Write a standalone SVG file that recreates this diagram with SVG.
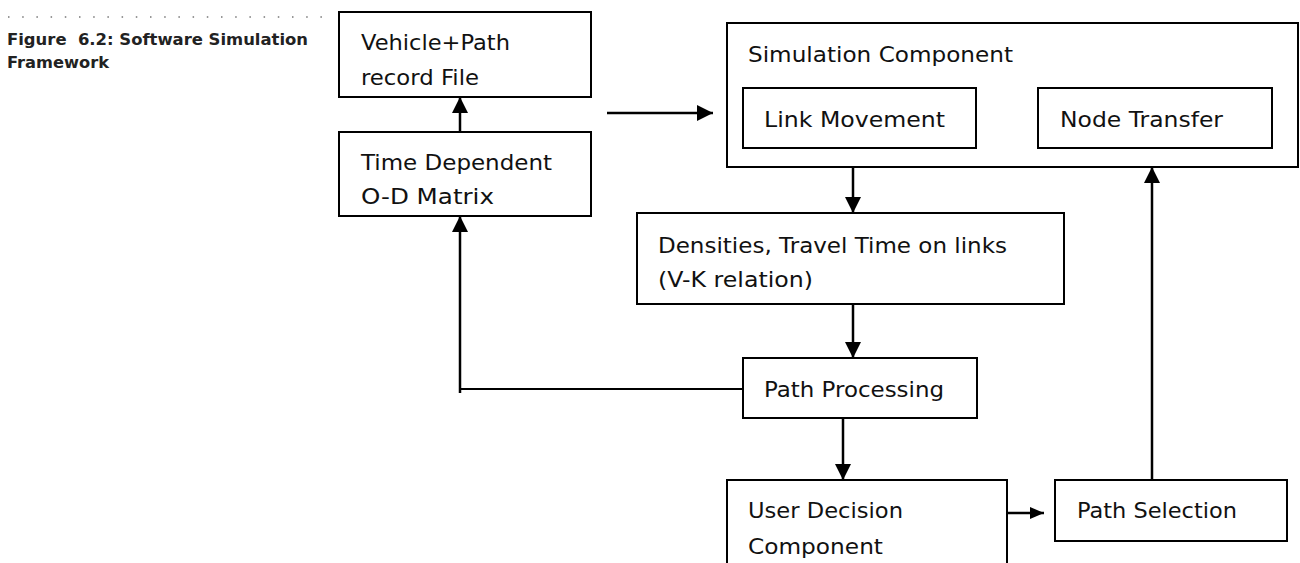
<svg xmlns="http://www.w3.org/2000/svg" width="1300" height="563" viewBox="0 0 1300 563">
<style>
.box{fill:#fff;stroke:#000;stroke-width:2}
.t{font-family:"DejaVu Sans","Liberation Sans",sans-serif;font-size:22px;fill:#111}
.cap{font-family:"DejaVu Sans","Liberation Sans",sans-serif;font-size:16px;font-weight:bold;fill:#222}
.ln{fill:none;stroke:#000;stroke-width:2.5}
.thin{fill:none;stroke:#000;stroke-width:2}
</style>
<defs>
<marker id="ah" markerUnits="userSpaceOnUse" markerWidth="16" markerHeight="16" refX="16" refY="8" orient="auto"><path d="M0,0 L16,8 L0,16 z" fill="#000"/></marker>
<marker id="ahs" markerUnits="userSpaceOnUse" markerWidth="14" markerHeight="12" refX="14" refY="6" orient="auto"><path d="M0,0 L14,6 L0,12 z" fill="#000"/></marker>
</defs>
<rect width="1300" height="563" fill="#fff"/>
<g id="caption">
<line x1="8" y1="17" x2="334" y2="17" stroke="#777" stroke-width="1.5" stroke-dasharray="1.5 12.7"/>
<text class="cap" x="7" y="45" textLength="301" lengthAdjust="spacingAndGlyphs" xml:space="preserve">Figure  6.2: Software Simulation</text>
<text class="cap" x="7" y="68" textLength="102" lengthAdjust="spacingAndGlyphs">Framework</text>
</g>
<g id="connectors">
<line class="ln" x1="460" y1="132" x2="460" y2="97" marker-end="url(#ah)"/>
<line class="ln" x1="607" y1="113" x2="713" y2="113" marker-end="url(#ah)"/>
<line class="ln" x1="853" y1="167" x2="853" y2="213" marker-end="url(#ah)"/>
<line class="ln" x1="853" y1="304" x2="853" y2="358" marker-end="url(#ah)"/>
<path class="thin" d="M743,389 H460"/>
<line class="ln" x1="460" y1="393" x2="460" y2="216" marker-end="url(#ah)"/>
<line class="ln" x1="843" y1="418" x2="843" y2="480" marker-end="url(#ah)"/>
<line class="ln" x1="1007" y1="513" x2="1044" y2="513" marker-end="url(#ahs)"/>
<line class="ln" x1="1152" y1="480" x2="1152" y2="167" marker-end="url(#ah)"/>
</g>
<g id="vehicle">
<rect class="box" x="339" y="12" width="252" height="85"/>
<text class="t" x="361" y="50" textLength="149" lengthAdjust="spacingAndGlyphs">Vehicle+Path</text>
<text class="t" x="361" y="85" textLength="118" lengthAdjust="spacingAndGlyphs">record File</text>
</g>
<g id="timedep">
<rect class="box" x="339" y="132" width="252" height="84"/>
<text class="t" x="361" y="170" textLength="191" lengthAdjust="spacingAndGlyphs">Time Dependent</text>
<text class="t" x="361" y="204" textLength="133" lengthAdjust="spacingAndGlyphs">O-D Matrix</text>
</g>
<g id="simulation">
<rect class="box" x="727" y="23" width="571" height="144"/>
<text class="t" x="748" y="62" textLength="265" lengthAdjust="spacingAndGlyphs">Simulation Component</text>
</g>
<g id="link">
<rect class="box" x="743" y="88" width="233" height="60"/>
<text class="t" x="764" y="127" textLength="181" lengthAdjust="spacingAndGlyphs">Link Movement</text>
</g>
<g id="nodetransfer">
<rect class="box" x="1038" y="88" width="234" height="60"/>
<text class="t" x="1060" y="127" textLength="163" lengthAdjust="spacingAndGlyphs">Node Transfer</text>
</g>
<g id="densities">
<rect class="box" x="637" y="213" width="427" height="91"/>
<text class="t" x="658" y="253" textLength="349" lengthAdjust="spacingAndGlyphs">Densities, Travel Time on links</text>
<text class="t" x="658" y="287" textLength="155" lengthAdjust="spacingAndGlyphs">(V-K relation)</text>
</g>
<g id="pathprocessing">
<rect class="box" x="743" y="358" width="234" height="60"/>
<text class="t" x="764" y="397" textLength="180" lengthAdjust="spacingAndGlyphs">Path Processing</text>
</g>
<g id="userdecision">
<rect class="box" x="727" y="480" width="280" height="100"/>
<text class="t" x="748" y="518" textLength="155" lengthAdjust="spacingAndGlyphs">User Decision</text>
<text class="t" x="748" y="554" textLength="135" lengthAdjust="spacingAndGlyphs">Component</text>
</g>
<g id="pathselection">
<rect class="box" x="1055" y="480" width="232" height="61"/>
<text class="t" x="1077" y="518" textLength="160" lengthAdjust="spacingAndGlyphs">Path Selection</text>
</g>
</svg>
